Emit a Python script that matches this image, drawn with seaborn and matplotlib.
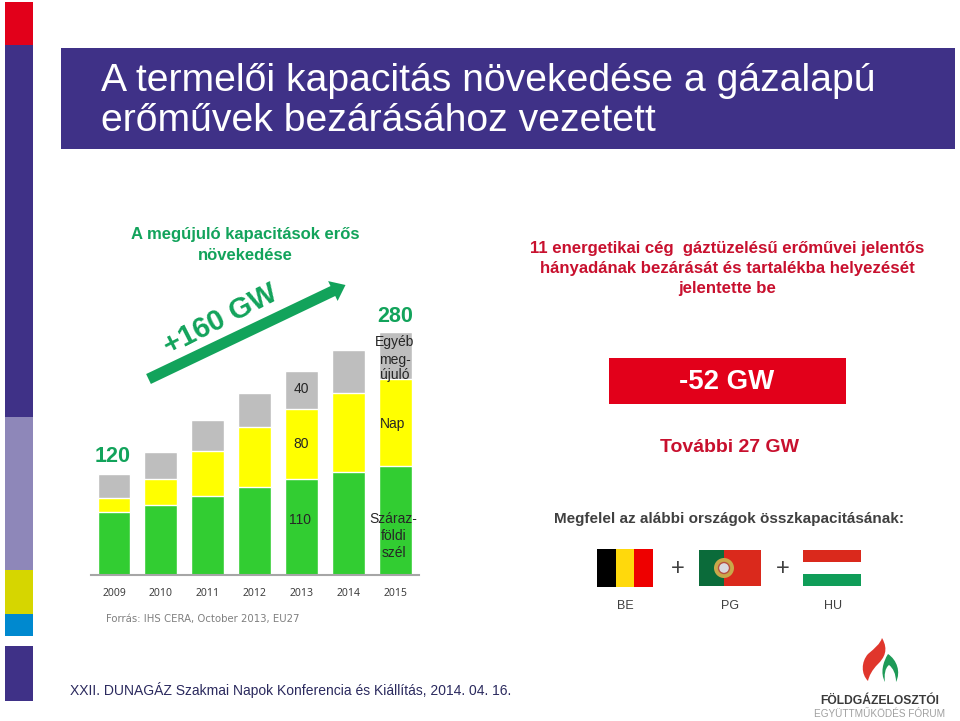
import numpy as np
import pandas as pd
import matplotlib
matplotlib.use("Agg")
import matplotlib.pyplot as plt
import seaborn as sns
from matplotlib.patches import Rectangle, Circle, FancyArrow, PathPatch
from matplotlib.path import Path

# adatok
evek = ['2009', '2010', '2011', '2012', '2013', '2014', '2015']
szel = [73, 81, 91, 101, 111, 119, 126]
nap = [16, 30, 52, 70, 80, 91, 100]
egyeb = [28, 31, 36, 39, 44, 50, 54]

cim = ['A termelői kapacitás növekedése a gázalapú', 'erőművek bezárásához vezetett']
bal_cim = ['A megújuló kapacitások erős', 'növekedése']
jobb_cim = ['11 energetikai cég  gáztüzelésű erőművei jelentős',
            'hányadának bezárását és tartalékba helyezését',
            'jelentette be']
orszagok = ['BE', 'PG', 'HU']

LILA = '#3F3187'
ZOLD_FELIRAT = '#12A35B'
PIROS = '#E2001A'
PIROS_SZOVEG = '#C8102E'
W, H = 960, 721

sns.set_theme(style="white")
plt.rcParams['font.family'] = ['Liberation Sans', 'DejaVu Sans']

fig = plt.figure(figsize=(W / 100, H / 100), dpi=100, facecolor='white')

# háttér réteg pixel koordinátákban
bg = fig.add_axes([0, 0, 1, 1])
bg.set_xlim(0, W)
bg.set_ylim(H, 0)
bg.axis('off')


def negyzet(tengely, x0, y0, x1, y1, szin):
    tengely.add_patch(Rectangle((x0, y0), x1 - x0, y1 - y0, facecolor=szin, edgecolor='none'))


# bal oldali sáv
for y0, y1, szin in [(2, 45, PIROS), (45, 417, LILA), (417, 570, '#8E87B9'),
                     (570, 614, '#D6D600'), (614, 636, '#0089CF'), (646, 701, LILA)]:
    negyzet(bg, 5, y0, 33, y1, szin)

# cím
negyzet(bg, 61, 48, 955, 149, LILA)
bg.text(101, 81, cim[0], color='white', fontsize=28.2, va='center')
bg.text(101, 121, cim[1], color='white', fontsize=28.2, va='center')

# diagram
ax = fig.add_axes([90.5 / W, 1 - 575 / H, 328.5 / W, 260 / H])
ax.patch.set_alpha(0)
df = pd.DataFrame({'ev': evek, 'szel': szel, 'nap': nap, 'egyeb': egyeb})
df['szel_nap'] = df['szel'] + df['nap']
df['ossz'] = df['szel_nap'] + df['egyeb']
sns.barplot(data=df, x='ev', y='ossz', color='#BEBEBE', saturation=1, width=0.7, ax=ax)
sns.barplot(data=df, x='ev', y='szel_nap', color='#FFFF00', saturation=1, width=0.7, ax=ax)
sns.barplot(data=df, x='ev', y='szel', color='#32CD32', saturation=1, width=0.7, ax=ax)
ax.set_xlim(-0.5, 6.5)
ax.set_ylim(0, 300)
ax.set_xlabel('')
ax.set_ylabel('')
ax.set_yticks([])
for s in ['top', 'left', 'right']:
    ax.spines[s].set_visible(False)
ax.spines['bottom'].set_color('#A6A6A6')
ax.spines['bottom'].set_linewidth(1.5)
ax.tick_params(axis='x', length=0, pad=9)
for t in ax.get_xticklabels():
    t.set_fontfamily('Noto Sans')
    t.set_fontsize(7.5)
    t.set_color('#404040')

# felső réteg a feliratoknak
fent = fig.add_axes([0, 0, 1, 1])
fent.set_xlim(0, W)
fent.set_ylim(H, 0)
fent.axis('off')
tx = fent.text

FEKETE = '#262626'
for x, y, szoveg in [(301, 389, '40'), (301, 444, '80'), (300, 520, '110'), (393, 424, 'Nap'),
                     (395, 342, 'Egyéb'), (395, 360, 'meg-'), (395, 375, 'újuló'),
                     (393, 519, 'Száraz-'), (394, 536, 'földi'), (394, 553, 'szél')]:
    tx(x, y, szoveg, ha='center', va='center', fontsize=10, color=FEKETE)
tx(113, 457, '120', ha='center', va='center', fontsize=15.5, fontweight='bold', color=ZOLD_FELIRAT)
tx(395, 317, '280', ha='center', va='center', fontsize=15.5, fontweight='bold', color=ZOLD_FELIRAT)
tx(221, 320, '+160 GW', ha='center', va='center', fontsize=21, fontweight='bold',
   color=ZOLD_FELIRAT, rotation=27)

# nyíl
fent.add_patch(FancyArrow(148.5, 379, 197, -94, width=11, head_width=22, head_length=14,
                          length_includes_head=True, facecolor=ZOLD_FELIRAT, edgecolor='none'))

for i, sor in enumerate(bal_cim):
    tx(245, 234 + i * 21, sor, ha='center', va='center', fontsize=12, fontweight='bold', color=ZOLD_FELIRAT)
tx(106, 619, 'Forrás: IHS CERA, October 2013, EU27', fontfamily='DejaVu Sans', fontsize=7.3,
   va='center', color='#7F7F7F')

# jobb oldal
for i, sor in enumerate(jobb_cim):
    tx(727.5, 248 + i * 20.5, sor, ha='center', va='center', fontsize=12.1, fontweight='bold', color=PIROS_SZOVEG)
negyzet(fent, 609, 358, 846, 404, PIROS)
tx(727, 382, '-52 GW', ha='center', va='center', fontsize=19.9, fontweight='bold', color='white')
tx(729, 447, 'További 27 GW', ha='center', va='center', fontsize=14, fontweight='bold', color=PIROS_SZOVEG)
tx(729, 519, 'Megfelel az alábbi országok összkapacitásának:', ha='center', va='center',
   fontsize=11, fontweight='bold', color='#404040')

# zászlók
negyzet(fent, 597, 549, 616, 587, '#000000')
negyzet(fent, 616, 549, 634, 587, '#FFD90C')
negyzet(fent, 634, 549, 653, 587, '#EE0000')
negyzet(fent, 699, 550, 724, 586, '#0B6B3A')
negyzet(fent, 724, 550, 761, 586, '#DA291C')
fent.add_patch(Circle((724, 568), 10, facecolor='#C9A84A', edgecolor='none'))
fent.add_patch(Circle((724, 568), 5.5, facecolor='#D9D9E0', edgecolor='#B85040', lw=1))
negyzet(fent, 803, 550, 861, 562, '#DA291C')
negyzet(fent, 803, 574, 861, 586, '#0F9D58')
tx(678, 569, '+', ha='center', va='center', fontsize=17, color='#404040')
tx(783, 569, '+', ha='center', va='center', fontsize=17, color='#404040')
for x, nev in zip([625, 730, 833], orszagok):
    tx(x, 606, nev, ha='center', va='center', fontsize=9, color='#404040')

# lábléc
tx(70, 690, 'XXII. DUNAGÁZ Szakmai Napok Konferencia és Kiállítás, 2014. 04. 16.', va='center',
   fontsize=10, color='#2B2A5E')

# logó
M, C, Z = Path.MOVETO, Path.CURVE4, Path.CLOSEPOLY
lang_piros = Path([(882, 638), (889, 650), (884, 658), (878, 664), (872, 670), (869, 676), (868, 681),
                   (861, 674), (861, 662), (868, 654), (875, 648), (880, 644), (882, 638), (882, 638)],
                  [M, C, C, C, C, C, C, C, C, C, C, C, C, Z])
lang_zold = Path([(888, 654), (897, 660), (901, 672), (896, 682), (896, 674), (893, 668), (889, 665),
                  (885, 668), (884, 675), (885, 682), (880, 673), (883, 662), (888, 654), (888, 654)],
                 [M, C, C, C, C, C, C, C, C, C, C, C, C, Z])
fent.add_patch(PathPatch(lang_piros, facecolor='#E0362C', edgecolor='none'))
fent.add_patch(PathPatch(lang_zold, facecolor='#1E9A57', edgecolor='none'))
tx(880, 701, 'FÖLDGÁZELOSZTÓI', ha='center', va='center', fontsize=8.7, fontweight='bold', color='#3A3A3A')
tx(880, 714, 'EGYÜTTMŰKÖDÉS FÓRUM', ha='center', va='center', fontsize=7.2, color='#A0A0A0')

fig.savefig('out.png', dpi=100)
